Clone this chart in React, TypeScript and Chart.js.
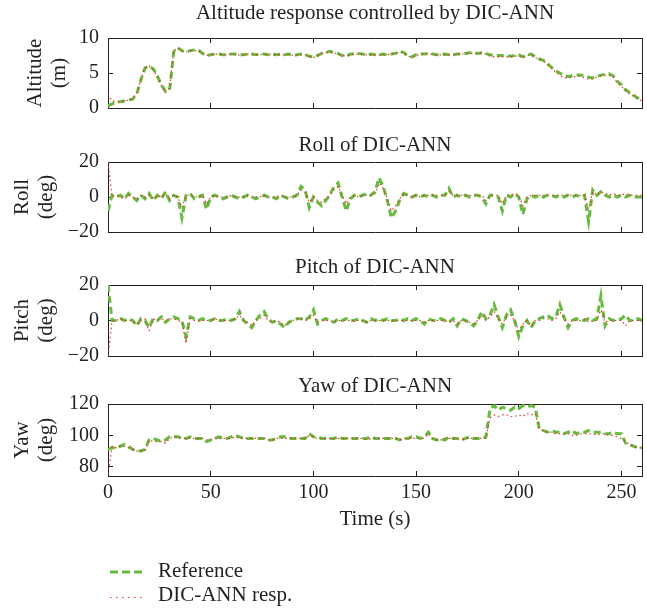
import React, { useEffect, useRef } from "react";
import { Chart, registerables } from "chart.js";

Chart.register(...registerables);

// ---------- data ----------
const TIME = Array.from({ length: 131 }, (_, i) => i * 2); // sampling grid, seconds
const TIME_TICKS = [0, 50, 100, 150, 200, 250];
const ALT_TICKS = [0, 5, 10];
const ATT_TICKS = [-20, 0, 20];
const YAW_TICKS = [80, 100, 120];

const ALT_REF = [
  0.3, 0.6, 0.8, 0.9, 1.0, 1.1, 1.3, 2.0, 4.0, 5.7,
  6.0, 5.6, 4.6, 3.3, 2.4, 2.6, 8.0, 8.6, 8.2, 8.0,
  8.2, 8.3, 8.3, 7.8, 7.5, 7.6, 7.7, 7.7, 7.6, 7.6,
  7.7, 7.7, 7.6, 7.6, 7.7, 7.7, 7.6, 7.7, 7.7, 7.6,
  7.7, 7.6, 7.7, 7.6, 7.7, 7.5, 7.6, 7.7, 7.6, 7.4,
  7.3, 7.5, 7.8, 7.9, 8.1, 7.9, 7.8, 7.5, 7.4, 7.7,
  7.7, 7.8, 7.7, 7.6, 7.7, 7.6, 7.6, 7.7, 7.6, 7.7,
  7.8, 8.1, 7.9, 7.4, 7.3, 7.6, 7.7, 7.7, 7.8, 7.7,
  7.6, 7.6, 7.7, 7.6, 7.6, 7.7, 7.7, 7.8, 7.9, 7.9,
  7.8, 7.9, 7.8, 7.6, 7.5, 7.5, 7.5, 7.5, 7.4, 7.5,
  7.6, 7.3, 7.6, 7.7, 7.3, 7.0, 6.8, 6.3, 5.8, 5.3,
  5.0, 4.6, 4.5, 4.6, 4.7, 4.7, 4.6, 4.4, 4.3, 4.5,
  4.7, 4.8, 4.9, 4.6, 3.8, 3.3, 2.6, 2.2, 1.8, 1.4,
  1.1,
];
const ALT_RESP = [
  2.0, 1.0, 0.9, 0.9, 1.0, 1.1, 1.3, 2.1, 4.1, 5.8,
  6.0, 5.5, 4.5, 3.2, 2.2, 2.8, 8.2, 8.6, 8.1, 8.0,
  8.2, 8.2, 8.2, 7.8, 7.5, 7.6, 7.7, 7.7, 7.6, 7.6,
  7.7, 7.6, 7.6, 7.6, 7.7, 7.7, 7.6, 7.6, 7.7, 7.6,
  7.7, 7.6, 7.6, 7.6, 7.7, 7.5, 7.6, 7.6, 7.6, 7.4,
  7.2, 7.5, 7.8, 7.9, 8.0, 7.9, 7.7, 7.5, 7.4, 7.6,
  7.7, 7.7, 7.7, 7.6, 7.6, 7.6, 7.6, 7.6, 7.6, 7.7,
  7.8, 8.0, 7.9, 7.4, 7.3, 7.5, 7.7, 7.7, 7.7, 7.7,
  7.6, 7.6, 7.6, 7.6, 7.6, 7.7, 7.7, 7.8, 7.8, 7.8,
  7.8, 7.8, 7.7, 7.4, 7.3, 7.3, 7.3, 7.3, 7.3, 7.4,
  7.5, 7.2, 7.5, 7.6, 7.2, 7.0, 6.7, 6.2, 5.7, 5.1,
  4.7, 4.3, 4.3, 4.4, 4.5, 4.5, 4.3, 4.1, 4.2, 4.4,
  4.6, 4.7, 4.7, 4.4, 3.6, 3.1, 2.5, 2.0, 1.7, 1.3,
  1.0,
];

const ROLL_REF = [
  -8, 1, 0, 1, -1, 2, 0, -2, 1, -1,
  2, -2, 1, -1, 3, -2, 1, 0, -12, 1,
  2, -1, 0, 1, -7, 0, 1, 0, -1, 0,
  1, 0, -1, 0, 1, 0, -1, 0, 1, 0,
  0, -1, 1, 0, -1, 0, 1, 6, 4, -6,
  0, -3, -5, -2, 1, 6, 8, 0, -8, -1,
  1, 0, 1, 2, 1, 3, 11, 6, -2, -12,
  -8, -2, 2, 1, 0, 1, 0, 1, 0, 1,
  0, 1, 1, 5, 0, 1, 0, 1, 0, 1,
  1, 0, -4, 1, 1, 0, -8, 1, 0, 2,
  0, -10, -1, 1, 0, 1, 0, 1, 1, 0,
  1, 0, 1, 0, 1, 0, 1, -14, 4, 1,
  3, 1, 0, 1, 0, 1, 0, 1, 0, 0,
  0,
];
const ROLL_RESP = [
  20, 0, 1, 0, -1, 1, 0, -1, 1, 0,
  1, -1, 1, 0, 2, -1, 1, 0, -6, 1,
  1, 0, 0, 1, -4, 0, 1, 0, 0, 0,
  1, 0, 0, 0, 1, 0, 0, 0, 1, 0,
  0, 0, 1, 0, 0, 0, 1, 4, 3, -3,
  0, -2, -3, -1, 1, 4, 6, 1, -4, 0,
  1, 0, 1, 1, 1, 2, 8, 5, -1, -8,
  -5, -1, 2, 1, 0, 1, 0, 1, 1, 1,
  1, 1, 1, 3, 1, 1, 1, 1, 1, 1,
  1, 1, -2, 1, 1, 1, -4, 1, 1, 2,
  1, -5, 0, 1, 1, 1, 1, 1, 1, 1,
  1, 1, 1, 1, 1, 1, 1, -7, 3, 1,
  3, 2, 1, 2, 1, 1, 2, 1, 1, 1,
  1,
];

const PITCH_REF = [
  20, 0, 0, 1, 0, 1, 0, -3, 1, 0,
  -4, 1, 0, 2, -1, 1, 2, 1, 0, -9,
  2, 1, 0, 1, 0, 0, 1, 0, 0, 1,
  0, 1, 5, 0, -2, -4, 0, 3, 5, 1,
  -1, 0, -2, -4, -1, 0, 1, 1, 0, 2,
  6, -2, 0, 1, 0, -1, 1, 0, 1, 0,
  0, 1, 0, -1, 1, 0, 1, 0, 1, 0,
  0, 1, 0, 1, 0, 1, 0, -2, 1, 0,
  0, 1, 0, -1, 1, -3, 1, 0, -1, -3,
  0, 5, 1, 3, 9, 2, -4, 3, 6, 0,
  -9, -3, 0, -4, 0, 1, 2, 3, 1, 2,
  9, 2, -4, 0, 1, 0, 0, 1, 0, 1,
  14, -3, 1, 0, 0, 1, 3, 0, 0, 1,
  0,
];
const PITCH_RESP = [
  -20, 0, 0, 1, 0, 0, 0, -2, 0, 1,
  -6, 1, 0, 1, 0, 1, 1, 0, -1, -13,
  1, 0, 0, 0, 0, 0, 1, 0, 0, 0,
  0, 1, 3, 0, -1, -3, 0, 1, 3, 0,
  -1, 0, -1, -3, -1, 0, 1, 1, 0, 1,
  3, -1, 0, 0, 0, -1, 0, 0, 0, 0,
  0, 0, 0, -1, 0, 0, 0, 0, 0, 0,
  0, 0, 0, 0, 0, 0, 0, -1, 0, 0,
  0, 0, 0, -1, 0, -2, 0, 0, -1, -2,
  0, 3, 0, 2, 5, 1, -2, 2, 3, 0,
  -6, -2, 0, -3, 0, 0, 1, 1, 0, 1,
  5, 1, -2, 0, 0, 0, 1, -1, 0, 0,
  6, -1, 0, 0, 0, 0, -3, 0, 0, 0,
  0,
];

const YAW_REF = [
  91, 92, 92, 93, 94, 93, 91, 90, 90, 91,
  97, 98, 97, 96, 97, 99, 99, 99, 98, 98,
  99, 98, 98, 98, 96, 97, 98, 99, 98, 98,
  99, 100, 99, 98, 98, 98, 98, 98, 98, 97,
  97, 98, 99, 99, 98, 98, 98, 98, 98, 101,
  99, 99, 98, 98, 98, 98, 99, 98, 98, 98,
  98, 98, 98, 98, 99, 98, 98, 98, 98, 98,
  98, 97, 98, 98, 99, 99, 98, 99, 102, 98,
  97, 98, 97, 99, 98, 98, 97, 98, 99, 98,
  98, 98, 99, 117, 119, 116, 118, 117, 116, 118,
  117, 119, 118, 119, 118, 104, 103, 102, 103, 102,
  102, 101, 102, 103, 101, 102, 102, 103, 102, 102,
  102, 101, 101, 102, 101, 101, 95, 94, 93, 92,
  92,
];
const YAW_RESP = [
  75, 93, 92, 93, 93, 92, 91, 90, 90, 90,
  97, 96, 96, 96, 95, 98, 99, 99, 98, 98,
  98, 98, 98, 98, 97, 97, 98, 98, 98, 98,
  98, 99, 98, 98, 98, 98, 98, 98, 98, 97,
  97, 98, 98, 98, 98, 98, 98, 98, 98, 100,
  99, 98, 98, 98, 98, 98, 98, 98, 98, 98,
  98, 98, 98, 97, 98, 98, 98, 98, 98, 98,
  98, 97, 98, 98, 98, 98, 98, 98, 101, 98,
  97, 97, 98, 98, 98, 98, 97, 98, 98, 98,
  98, 98, 98, 111, 113, 112, 113, 113, 112, 112,
  113, 112, 114, 113, 114, 104, 103, 102, 102, 101,
  101, 101, 101, 100, 100, 101, 101, 101, 101, 100,
  101, 101, 100, 100, 99, 98, 96, 94, 93, 92,
  92,
];

// ---------- style ----------
const W = 647;
const FONT = "'Liberation Serif', 'Times New Roman', serif";
const INK = "#231f20";
const GREEN = "#66bb3f";
const RED = "#e8322c";
const TITLE_SIZE = 21;
const TICK_SIZE = 20;

const fmt = (v: number) => String(v).replace("-", "\u2212");

type PanelProps = {
  refData: number[];
  respData: number[];
  yMin: number;
  yMax: number;
  yTicks: number[];
  title: string;
  yTitle: string[];
  yTitleGap: number;
  canvasTop: number;
  titleY: number;
  areaTop: number;
  areaBottom: number;
  bottomAxis: boolean;
};

function Panel(p: PanelProps) {
  const ref = useRef<HTMLCanvasElement>(null);
  const xAxisH = p.bottomAxis ? 56 : 16;
  const height = p.areaBottom + xAxisH - p.canvasTop;

  useEffect(() => {
    if (!ref.current) return;
    const lh = TITLE_SIZE * 1.2;
    const padTop = p.titleY - p.canvasTop - lh / 2;
    const padBottom = p.areaTop - p.canvasTop - padTop - lh;
    const toPts = (arr: number[]) => TIME.map((t, i) => ({ x: t, y: arr[i] }));
    const setTicks = (vals: number[]) => (scale: any) => {
      scale.ticks = vals.map((v) => ({ value: v }));
    };
    const tickFont = { family: FONT, size: TICK_SIZE };
    const grid = { drawOnChartArea: false, drawTicks: true, tickLength: -5, color: INK, lineWidth: 1 };
    const border = { display: true, color: INK, width: 1 };

    const chart = new Chart(ref.current, {
      type: "line",
      data: {
        datasets: [
          {
            label: "Reference",
            data: toPts(p.refData),
            borderColor: GREEN,
            borderWidth: 3,
            borderDash: [7, 4],
            pointRadius: 0,
            tension: 0,
            fill: false,
            order: 2,
          },
          {
            label: "DIC-ANN resp.",
            data: toPts(p.respData),
            borderColor: RED,
            borderWidth: 1.2,
            borderDash: [1.5, 3],
            pointRadius: 0,
            tension: 0,
            fill: false,
            order: 1,
          },
        ],
      },
      options: {
        animation: false,
        responsive: false,
        events: [],
        layout: { padding: { left: 0, right: 5, top: 0, bottom: 0 }, autoPadding: false },
        plugins: {
          legend: { display: false },
          tooltip: { enabled: false },
          title: {
            display: true,
            text: p.title,
            color: INK,
            font: { family: FONT, size: TITLE_SIZE, weight: "normal", lineHeight: 1.2 },
            padding: { top: padTop, bottom: padBottom },
            fullSize: false,
          },
        },
        scales: {
          x: {
            type: "linear",
            position: "bottom",
            min: 0,
            max: 260,
            afterBuildTicks: setTicks(TIME_TICKS),
            grid,
            border,
            ticks: {
              display: p.bottomAxis,
              font: tickFont,
              color: INK,
              padding: 10,
              maxRotation: 0,
              autoSkip: false,
            },
            title: {
              display: p.bottomAxis,
              text: "Time (s)",
              color: INK,
              font: { family: FONT, size: TITLE_SIZE, lineHeight: 1.2 },
              padding: { top: 0, bottom: 0 },
            },
            afterFit: (s: any) => {
              s.height = xAxisH;
              s.paddingLeft = 0;
              s.paddingRight = 0;
            },
          },
          x2: {
            type: "linear",
            position: "top",
            min: 0,
            max: 260,
            afterBuildTicks: setTicks(TIME_TICKS),
            grid,
            border,
            ticks: { display: false },
            afterFit: (s: any) => {
              s.height = 0;
              s.paddingLeft = 0;
              s.paddingRight = 0;
            },
          },
          y: {
            type: "linear",
            position: "left",
            min: p.yMin,
            max: p.yMax,
            afterBuildTicks: setTicks(p.yTicks),
            grid,
            border,
            ticks: {
              font: tickFont,
              color: INK,
              padding: 14,
              callback: (v: any) => fmt(Number(v)),
            },
            title: {
              display: true,
              text: p.yTitle,
              color: INK,
              font: { family: FONT, size: TITLE_SIZE, lineHeight: 1.15 },
              padding: { top: p.yTitleGap, bottom: 0 },
            },
            afterFit: (s: any) => {
              s.width = 108;
              s.paddingTop = 0;
              s.paddingBottom = 0;
            },
          },
          y2: {
            type: "linear",
            position: "right",
            min: p.yMin,
            max: p.yMax,
            afterBuildTicks: setTicks(p.yTicks),
            grid,
            border,
            ticks: { display: false },
            afterFit: (s: any) => {
              s.width = 0;
              s.paddingTop = 0;
              s.paddingBottom = 0;
            },
          },
        },
      } as any,
    });
    return () => chart.destroy();
  }, []);

  return (
    <canvas
      ref={ref}
      width={W}
      height={height}
      style={{ position: "absolute", left: 0, top: p.canvasTop, display: "block" }}
    />
  );
}

export default function App() {
  return (
    <div
      style={{
        position: "fixed",
        left: 0,
        top: 0,
        width: W,
        height: 609,
        background: "#ffffff",
        overflow: "hidden",
      }}
    >
      <Panel
        refData={ALT_REF}
        respData={ALT_RESP}
        yMin={0}
        yMax={10}
        yTicks={ALT_TICKS}
        title="Altitude response controlled by DIC-ANN"
        yTitle={["Altitude", "(m)"]}
        yTitleGap={23}
        canvasTop={0}
        titleY={13.5}
        areaTop={38}
        areaBottom={108}
        bottomAxis={false}
      />
      <Panel
        refData={ROLL_REF}
        respData={ROLL_RESP}
        yMin={-20}
        yMax={20}
        yTicks={ATT_TICKS}
        title="Roll of DIC-ANN"
        yTitle={["Roll", "(deg)"]}
        yTitleGap={10}
        canvasTop={128}
        titleY={145}
        areaTop={162}
        areaBottom={232}
        bottomAxis={false}
      />
      <Panel
        refData={PITCH_REF}
        respData={PITCH_RESP}
        yMin={-20}
        yMax={20}
        yTicks={ATT_TICKS}
        title="Pitch of DIC-ANN"
        yTitle={["Pitch", "(deg)"]}
        yTitleGap={10}
        canvasTop={250}
        titleY={267}
        areaTop={285}
        areaBottom={356}
        bottomAxis={false}
      />
      <Panel
        refData={YAW_REF}
        respData={YAW_RESP}
        yMin={74}
        yMax={120}
        yTicks={YAW_TICKS}
        title="Yaw of DIC-ANN"
        yTitle={["Yaw", "(deg)"]}
        yTitleGap={10}
        canvasTop={370}
        titleY={386.5}
        areaTop={404}
        areaBottom={476}
        bottomAxis={true}
      />
      <svg
        width={W}
        height={609}
        style={{ position: "absolute", left: 0, top: 0, pointerEvents: "none" }}
      >
        <line x1={110} y1={572} x2={144} y2={572} stroke={GREEN} strokeWidth={3} strokeDasharray="8 4" />
        <line x1={110} y1={597.5} x2={144} y2={597.5} stroke={RED} strokeWidth={1.2} strokeDasharray="1.5 4.5" />
      </svg>
      <span
        style={{
          position: "absolute",
          left: 158,
          top: 558,
          font: `${TITLE_SIZE}px ${FONT}`,
          lineHeight: "25px",
          color: INK,
          whiteSpace: "nowrap",
        }}
      >
        Reference
      </span>
      <span
        style={{
          position: "absolute",
          left: 158,
          top: 582,
          font: `${TITLE_SIZE}px ${FONT}`,
          lineHeight: "25px",
          color: INK,
          whiteSpace: "nowrap",
        }}
      >
        DIC-ANN resp.
      </span>
    </div>
  );
}
